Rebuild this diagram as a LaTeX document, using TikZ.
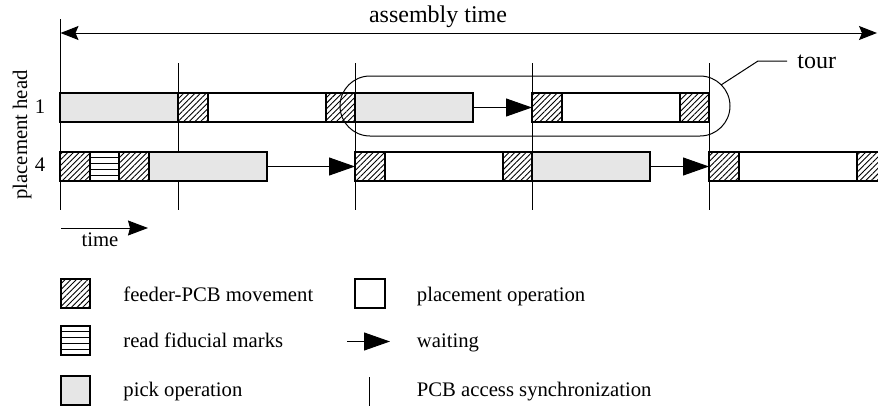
\documentclass[tikz,border=0pt]{standalone}
\usepackage{fontspec}
\setmainfont{Liberation Serif}
\usetikzlibrary{patterns.meta,arrows.meta,calc}
\definecolor{pickgray}{RGB}{230,230,230}
\begin{document}
\begin{tikzpicture}[x=0.5pt,y=-0.5pt,
  box/.style={draw, line width=1pt, inner sep=0pt, outer sep=0pt, minimum height=14.5pt, anchor=west},
  pk/.style={box, fill=pickgray, minimum width=59pt},
  pl/.style={box, fill=white, minimum width=59pt},
  mv/.style={box, pattern={Lines[angle=45,distance=2pt,line width=0.45pt]}, minimum width=14.75pt},
  fm/.style={box, fill=white, minimum width=14.75pt},
  thin/.style={line width=0.5pt},
  wait/.style={line width=0.5pt, -{Triangle[length=13pt,width=9pt]}},
  lbl/.style={font=\fontsize{10.35}{12}\selectfont, inner sep=0pt},
  big/.style={font=\fontsize{12}{14}\selectfont, inner sep=0pt},
]
\useasboundingbox (0,0) rectangle (878,407);
\clip (0,0) rectangle (878,407);

% sync lines
\coordinate (s0a) at (60.5,19);  \coordinate (s0b) at (60.5,210);
\draw[thin] (s0a) -- (s0b);
\foreach \x [count=\k] in {178,355,532,709}{
  \coordinate (s\k a) at (\x,63); \coordinate (s\k b) at (\x,210);
  \draw[thin] (s\k a) -- (s\k b);
}

% assembly time
\coordinate (atL) at (60.5,33); \coordinate (atR) at (877,33);
\draw[thin, {Stealth[length=9pt,width=7pt,inset=1.5pt]}-{Stealth[length=9pt,width=7pt,inset=1.5pt]}] (atL) -- (atR);
\node[big, anchor=base] (ttl) at (438,23) {assembly time};

% row 1
\node[pk] (a1) at (60,107.5) {};
\node[mv] (a2) at (a1.east) {};
\node[pl] (a3) at (a2.east) {};
\node[mv] (a4) at (a3.east) {};
\node[pk] (a5) at (a4.east) {};
\node[mv] (a6) at (532,107.5) {};
\node[pl] (a7) at (a6.east) {};
\node[mv] (a8) at (a7.east) {};
\draw[wait] (a5.east) -- (a6.west);

% row 4
\node[mv] (b1) at (60,166.5) {};
\node[fm] (b2) at (b1.east) {};
\node[mv] (b3) at (b2.east) {};
\node[pk] (b4) at (b3.east) {};
\node[mv] (b5) at (355,166.5) {};
\node[pl] (b6) at (b5.east) {};
\node[mv] (b7) at (b6.east) {};
\node[pk] (b8) at (b7.east) {};
\node[mv] (b9) at (709,166.5) {};
\node[pl] (b10) at (b9.east) {};
\node[mv] (b11) at (b10.east) {};
\foreach \i in {1,...,4}
  \draw[thin] ($(b2.north west)!\i/5!(b2.south west)$) -- ($(b2.north east)!\i/5!(b2.south east)$);
\draw[wait] (b4.east) -- (b5.west);
\draw[wait] (b8.east) -- (b9.west);

% tour
\draw[thin, rounded corners=15pt] (340,76) rectangle (730,136);
\coordinate (tr1) at (721,85); \coordinate (tr2) at (758,61); \coordinate (tr3) at (787,61);
\draw[thin] (tr1) -- (tr2) -- (tr3);
\node[big, anchor=base west] (tourlbl) at (797,68) {tour};

% axis labels
\node[lbl, rotate=90, anchor=base] (ph) at (27,135) {placement head};
\node[lbl, anchor=base] (h1) at (40,113) {1};
\node[lbl, anchor=base] (h4) at (40,171) {4};

% time arrow
\coordinate (tA) at (61,228); \coordinate (tB) at (148,228);
\draw[thin, -{Stealth[length=10pt,width=7.5pt,inset=1pt]}] (tA) -- (tB);
\node[lbl, anchor=base] (tm) at (100,246) {time};

% legend
\node[mv, minimum width=14.5pt, anchor=center] (l1) at (75.5,293.5) {};
\node[fm, minimum width=14.5pt, anchor=center] (l2) at (75.5,340.5) {};
\foreach \i in {1,...,4}
  \draw[thin] ($(l2.north west)!\i/5!(l2.south west)$) -- ($(l2.north east)!\i/5!(l2.south east)$);
\node[pk, minimum width=14.5pt, anchor=center] (l3) at (75.5,390.5) {};
\node[pl, minimum width=15pt, anchor=center] (l4) at (369.5,293.5) {};
\coordinate (w1) at (347,341.5); \coordinate (w2) at (390,341.5);
\draw[wait] (w1) -- (w2);
\coordinate (y1) at (369.5,377); \coordinate (y2) at (369.5,406);
\draw[thin] (y1) -- (y2);

\node[lbl, anchor=base west] (t1) at (123,301.5) {feeder-PCB movement};
\node[lbl, anchor=base west] (t2) at (123,347.5) {read fiducial marks};
\node[lbl, anchor=base west] (t3) at (123,396.5) {pick operation};
\node[lbl, anchor=base west] (t4) at (416.5,301.5) {placement operation};
\node[lbl, anchor=base west] (t5) at (416.5,347) {waiting};
\node[lbl, anchor=base west] (t6) at (416.5,396.5) {PCB access synchronization};
\end{tikzpicture}
\end{document}
